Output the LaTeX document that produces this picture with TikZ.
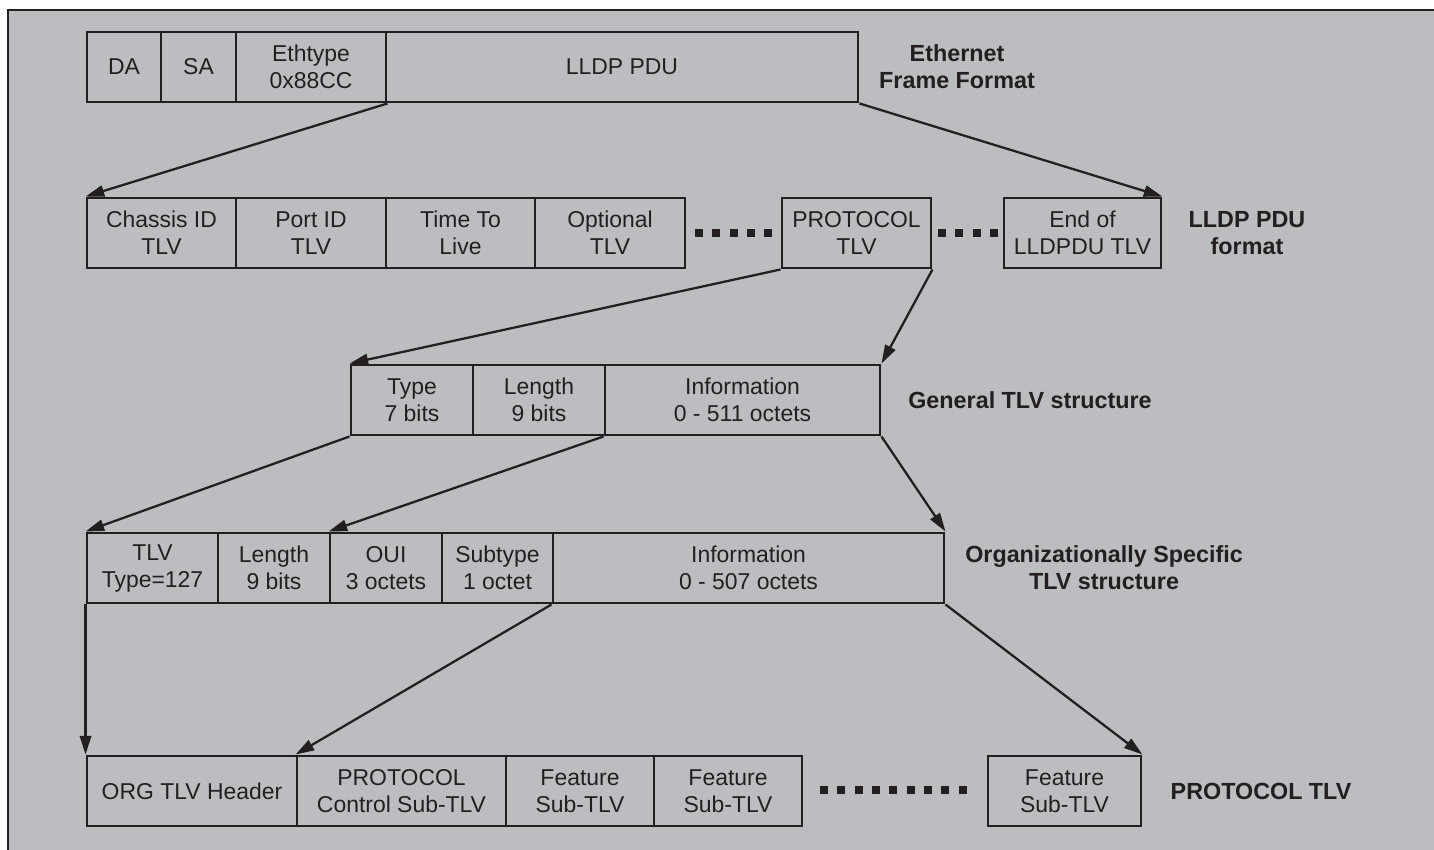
\documentclass[tikz,border=0pt]{standalone}
\usepackage{fontspec}
\setmainfont{Liberation Sans}
\usetikzlibrary{arrows.meta}
\definecolor{bg}{RGB}{188,189,192}
\definecolor{ink}{RGB}{35,31,32}
\newcommand\fld[6]{\node[fld, minimum width={(#3-#2)*0.75pt}, minimum height={(#5-#4)*0.75pt}] (#1) at ({(#2+#3)/2},{(#4+#5)/2}) {#6};}
\begin{document}
\begin{tikzpicture}[x=0.75pt,y=-0.75pt,
  fld/.style={draw=ink, line width=2.2pt, inner sep=0pt, align=center, text=ink, font=\fontsize{17.2}{20.25}\selectfont},
  lbl/.style={align=center, text=ink, inner sep=0pt, font=\bfseries\fontsize{17.5}{20.25}\selectfont},
  arr/.style={draw=ink, line width=1.7pt, -{Triangle[length=14pt,width=8.5pt]}},
  dotline/.style={draw=ink, line width=6pt, dash pattern=on 6pt off 7pt}]
\useasboundingbox (0,0) rectangle (1434,849);
\fill[white] (0,0) rectangle (1434,849);
\fill[bg] (8,10) rectangle (1440,855);
\draw[ink, line width=2.2pt] (8,855) -- (8,10) -- (1440,10);
% Row 1
\fld{da}{87}{161}{32}{102}{DA}
\fld{sa}{161}{236}{32}{102}{SA}
\fld{eth}{236}{386}{32}{102}{Ethtype\\0x88CC}
\fld{pdu}{386}{858}{32}{102}{LLDP PDU}
\node[lbl] (l1) at (957,67) {Ethernet\\Frame Format};
% Row 2
\fld{chassis}{87}{236}{198}{268}{Chassis ID\\TLV}
\fld{port}{236}{386}{198}{268}{Port ID\\TLV}
\fld{ttl}{386}{535}{198}{268}{Time To\\Live}
\fld{opt}{535}{685}{198}{268}{Optional\\TLV}
\fld{proto}{782}{931}{198}{268}{PROTOCOL\\TLV}
\fld{endtlv}{1004}{1161}{198}{268}{End of\\LLDPDU TLV}
\node[lbl] (l2) at (1247,233) {LLDP PDU\\format};
\coordinate (d1a) at (695,233);
\coordinate (d1b) at (772.3,233);
\coordinate (d2a) at (938,233);
\coordinate (d2b) at (998,233);
\draw[dotline] (d1a) -- (d1b);
\draw[dotline] (d2a) -- (d2b);
% Row 3
\fld{gtype}{351}{473}{365}{435}{Type\\7 bits}
\fld{glen}{473}{605}{365}{435}{Length\\9 bits}
\fld{ginfo}{605}{880}{365}{435}{Information\\0 - 511 octets}
\node[lbl] (l3) at (1030,400) {General TLV structure};
% Row 4
\fld{otype}{87}{218}{533}{603}{TLV\\Type=127}
\fld{olen}{218}{330}{533}{603}{Length\\9 bits}
\fld{ooui}{330}{442}{533}{603}{OUI\\3 octets}
\fld{osub}{442}{553}{533}{603}{Subtype\\1 octet}
\fld{oinfo}{553}{944}{533}{603}{Information\\0 - 507 octets}
\node[lbl] (l4) at (1104,568) {Organizationally Specific\\TLV structure};
% Row 5
\fld{hdr}{87}{297}{756}{826}{ORG TLV Header}
\fld{ctrl}{297}{506}{756}{826}{PROTOCOL\\Control Sub-TLV}
\fld{fa}{506}{654}{756}{826}{Feature\\Sub-TLV}
\fld{fb}{654}{802}{756}{826}{Feature\\Sub-TLV}
\fld{flast}{988}{1141}{756}{826}{Feature\\Sub-TLV}
\node[lbl] (l5) at (1261,791) {PROTOCOL TLV};
\coordinate (d3a) at (820,790);
\coordinate (d3b) at (966.7,790);
\draw[dotline] (d3a) -- (d3b);
% Arrows
\draw[arr] (eth.south east) -- (chassis.north west);
\draw[arr] (pdu.south east) -- (endtlv.north east);
\draw[arr] (proto.south west) -- (gtype.north west);
\draw[arr] (proto.south east) -- (ginfo.north east);
\draw[arr] (gtype.south west) -- (otype.north west);
\draw[arr] (ginfo.south west) -- (ooui.north west);
\draw[arr] (ginfo.south east) -- (oinfo.north east);
\draw[arr] (otype.south west) -- (hdr.north west);
\draw[arr] (oinfo.south west) -- (ctrl.north west);
\draw[arr] (oinfo.south east) -- (flast.north east);
\end{tikzpicture}
\end{document}
